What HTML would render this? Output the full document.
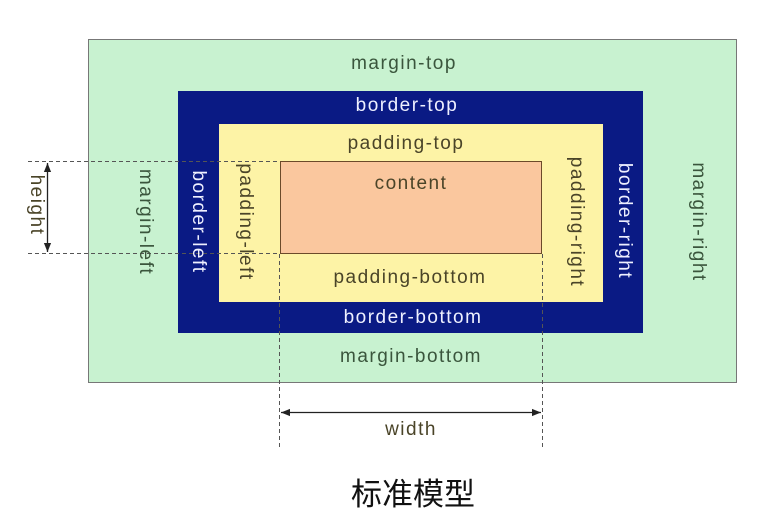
<!DOCTYPE html>
<html><head><meta charset="utf-8"><style>
html,body{margin:0;padding:0;background:#fff}
svg{display:block}
text{font-family:"Liberation Sans","Noto Sans CJK SC",sans-serif;font-size:19px;letter-spacing:1.5px}
</style></head><body>
<svg width="778" height="532" viewBox="0 0 778 532" xmlns="http://www.w3.org/2000/svg">
<defs>
<marker id="a" viewBox="0 0 10 10" refX="10" refY="5" markerWidth="7" markerHeight="7" orient="auto-start-reverse"><path d="M0,1 L10,5 L0,9 z" fill="#222"/></marker>
</defs>
<rect x="88.5" y="39.5" width="648" height="343" fill="#c8f2d0" stroke="#777" stroke-width="1"/>
<rect x="178" y="91" width="465" height="242" fill="#0a1a84"/>
<rect x="219" y="124" width="384" height="178" fill="#fdf3a6"/>
<rect x="280.5" y="161.5" width="261" height="92" fill="#fac79e" stroke="#6b4a2a" stroke-width="1"/>
<g stroke="#555" stroke-width="1" stroke-dasharray="4,3" fill="none">
<line x1="28" y1="161.5" x2="280" y2="161.5"/>
<line x1="28" y1="253.5" x2="280" y2="253.5"/>
<line x1="279.5" y1="254" x2="279.5" y2="450"/>
<line x1="542.5" y1="254" x2="542.5" y2="450"/>
</g>
<line x1="47.5" y1="163" x2="47.5" y2="252" stroke="#222" stroke-width="1.3" marker-start="url(#a)" marker-end="url(#a)"/>
<line x1="281" y1="412.5" x2="541" y2="412.5" stroke="#222" stroke-width="1.3" marker-start="url(#a)" marker-end="url(#a)"/>
<g text-anchor="middle" fill="#3a553c">
<text x="404" y="69">margin-top</text>
<text x="411" y="362">margin-bottom</text>
<text transform="translate(140,222) rotate(90)">margin-left</text>
<text transform="translate(693,222) rotate(90)">margin-right</text>
</g>
<g text-anchor="middle" fill="#eef0ff">
<text x="407" y="111">border-top</text>
<text x="413" y="323">border-bottom</text>
<text transform="translate(193,222) rotate(90)">border-left</text>
<text transform="translate(619,221) rotate(90)">border-right</text>
</g>
<g text-anchor="middle" fill="#4a4428">
<text x="406" y="149">padding-top</text>
<text x="410" y="283">padding-bottom</text>
<text transform="translate(240,222) rotate(90)">padding-left</text>
<text transform="translate(571,222) rotate(90)">padding-right</text>
<text x="411" y="189">content</text>
<text x="411" y="435">width</text>
<text transform="translate(31,205) rotate(90)">height</text>
</g>
<text x="413" y="505" text-anchor="middle" fill="#111" style="font-size:31px;letter-spacing:0">标准模型</text>
</svg>
</body></html>
